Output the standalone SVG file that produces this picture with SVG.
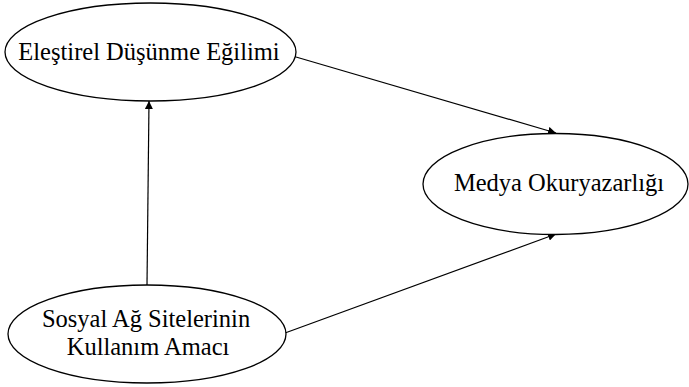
<svg xmlns="http://www.w3.org/2000/svg" width="689" height="387" viewBox="0 0 689 387">
<style>
.n{fill:#fff;stroke:#000;stroke-width:1.3}
.t{font-size:24.5px;fill:#000;text-anchor:middle}
.c{stroke:#000;stroke-width:1.2;fill:none;marker-end:url(#ah)}
</style>
<defs>
<marker id="ah" viewBox="0 0 10 10" refX="10" refY="5" markerWidth="8" markerHeight="8" markerUnits="userSpaceOnUse" orient="auto">
<path d="M0,0 L10,5 L0,10 z" fill="#000"/>
</marker>
</defs>
<rect width="689" height="387" fill="#fff"/>
<g id="connectors">
<line class="c" x1="147" y1="285" x2="149" y2="101"/>
<line class="c" x1="296" y1="57" x2="556" y2="133"/>
<line class="c" x1="285" y1="333" x2="556" y2="234"/>
</g>
<g id="n1">
<ellipse class="n" cx="150.5" cy="52" rx="145.5" ry="49"/>
<text class="t" font-family="Liberation Serif, serif" x="149" y="60">Eleştirel Düşünme Eğilimi</text>
</g>
<g id="n2">
<ellipse class="n" cx="555.5" cy="184" rx="132.5" ry="50.5"/>
<text class="t" font-family="Liberation Serif, serif" x="559" y="191">Medya Okuryazarlığı</text>
</g>
<g id="n3">
<ellipse class="n" cx="147" cy="334" rx="139" ry="49"/>
<text class="t" font-family="Liberation Serif, serif" x="146" y="327">Sosyal Ağ Sitelerinin</text>
<text class="t" font-family="Liberation Serif, serif" x="148" y="355">Kullanım Amacı</text>
</g>
</svg>
